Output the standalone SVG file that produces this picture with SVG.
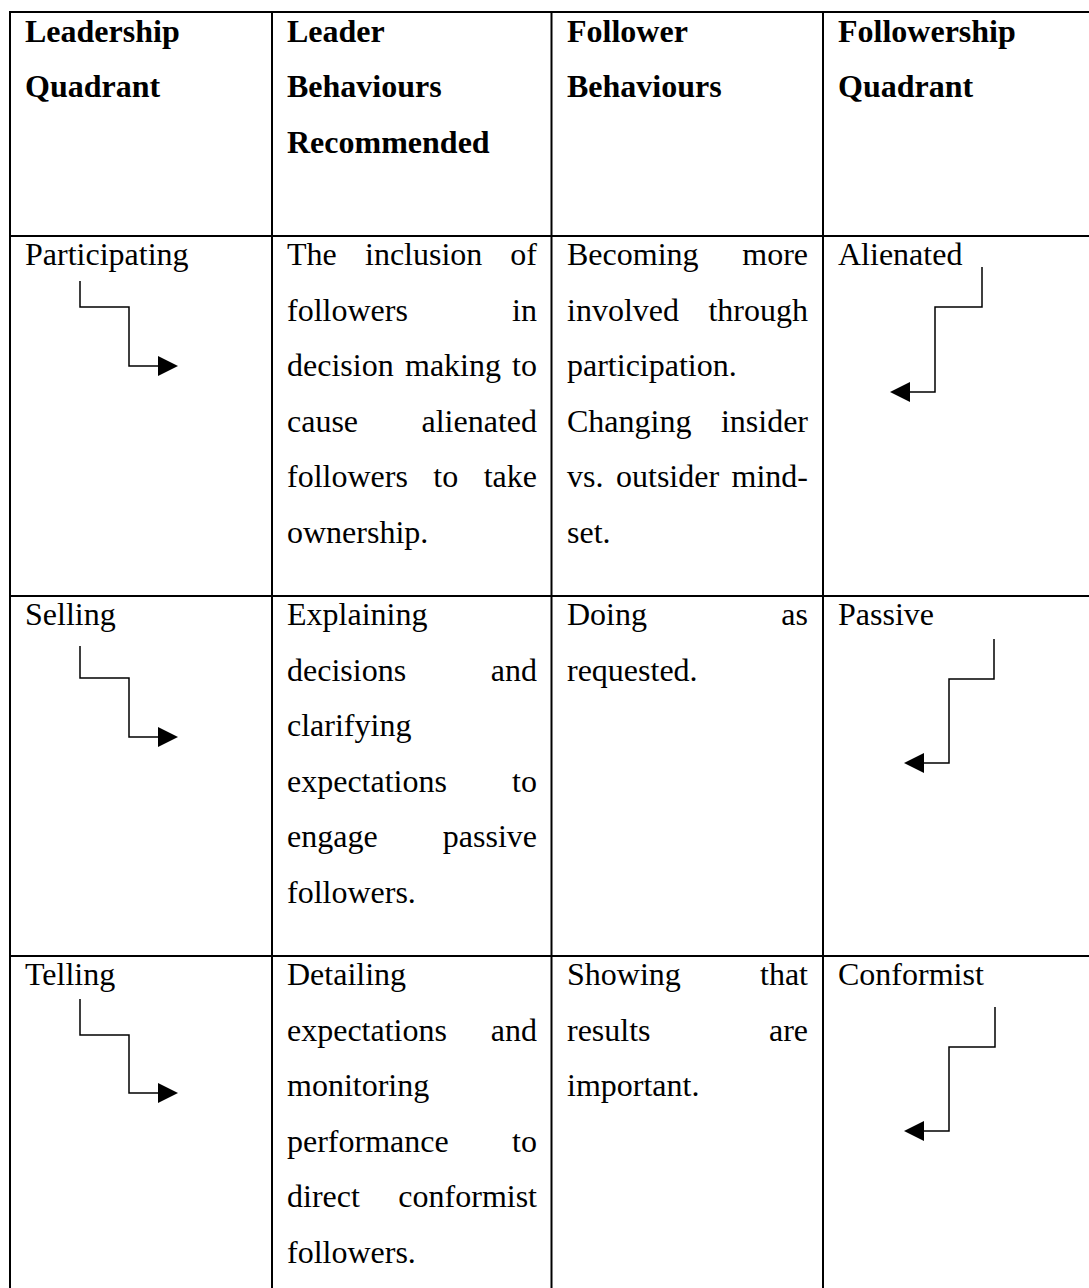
<svg xmlns="http://www.w3.org/2000/svg" width="1089" height="1288" viewBox="0 0 1089 1288">
<style>
text{font-family:"Liberation Serif","Times New Roman",serif;font-size:32px;fill:#000}
.h{font-weight:bold}
.e{text-anchor:end}
.grid{stroke:#000;stroke-width:2;fill:none}
.arr{stroke:#000;stroke-width:1.5;fill:none}
.head{fill:#000;stroke:none}
</style>
<rect width="1089" height="1288" fill="#fff"/>
<g id="grid" class="grid">
<line x1="9" y1="12" x2="1089" y2="12"/>
<line x1="9" y1="236" x2="1089" y2="236"/>
<line x1="9" y1="596" x2="1089" y2="596"/>
<line x1="9" y1="956" x2="1089" y2="956"/>
<line x1="10" y1="11" x2="10" y2="1288"/>
<line x1="272" y1="11" x2="272" y2="1288"/>
<line x1="551.5" y1="11" x2="551.5" y2="1288"/>
<line x1="823" y1="11" x2="823" y2="1288"/>
</g>
<g id="header">
<text class="h" x="25" y="42">Leadership</text>
<text class="h" x="25" y="97">Quadrant</text>
<text class="h" x="287" y="42">Leader</text>
<text class="h" x="287" y="97">Behaviours</text>
<text class="h" x="287" y="152.5">Recommended</text>
<text class="h" x="567" y="42">Follower</text>
<text class="h" x="567" y="97">Behaviours</text>
<text class="h" x="838" y="42">Followership</text>
<text class="h" x="838" y="97">Quadrant</text>
</g>
<g id="row-participating">
<text x="25" y="265">Participating</text>
<text x="287" y="265">The</text><text x="365" y="265">inclusion</text><text class="e" x="537" y="265">of</text>
<text x="287" y="320.5">followers</text><text class="e" x="537" y="320.5">in</text>
<text x="287" y="376">decision</text><text x="405" y="376">making</text><text class="e" x="537" y="376">to</text>
<text x="287" y="431.5">cause</text><text class="e" x="537" y="431.5">alienated</text>
<text x="287" y="487">followers</text><text x="433.3" y="487">to</text><text class="e" x="537" y="487">take</text>
<text x="287" y="542.5">ownership.</text>
<text x="567" y="265">Becoming</text><text class="e" x="808" y="265">more</text>
<text x="567" y="320.5">involved</text><text class="e" x="808" y="320.5">through</text>
<text x="567" y="376">participation.</text>
<text x="567" y="431.5">Changing</text><text class="e" x="808" y="431.5">insider</text>
<text x="567" y="487">vs.</text><text x="616" y="487">outsider</text><text class="e" x="808" y="487">mind-</text>
<text x="567" y="542.5">set.</text>
<text x="838" y="265">Alienated</text>
</g>
<g id="row-selling">
<text x="25" y="625">Selling</text>
<text x="287" y="625">Explaining</text>
<text x="287" y="680.5">decisions</text><text class="e" x="537" y="680.5">and</text>
<text x="287" y="736">clarifying</text>
<text x="287" y="791.5">expectations</text><text class="e" x="537" y="791.5">to</text>
<text x="287" y="847">engage</text><text class="e" x="537" y="847">passive</text>
<text x="287" y="902.5">followers.</text>
<text x="567" y="625">Doing</text><text class="e" x="808" y="625">as</text>
<text x="567" y="680.5">requested.</text>
<text x="838" y="625">Passive</text>
</g>
<g id="row-telling">
<text x="25" y="985">Telling</text>
<text x="287" y="985">Detailing</text>
<text x="287" y="1040.5">expectations</text><text class="e" x="537" y="1040.5">and</text>
<text x="287" y="1096">monitoring</text>
<text x="287" y="1151.5">performance</text><text class="e" x="537" y="1151.5">to</text>
<text x="287" y="1207">direct</text><text class="e" x="537" y="1207">conformist</text>
<text x="287" y="1262.5">followers.</text>
<text x="567" y="985">Showing</text><text class="e" x="808" y="985">that</text>
<text x="567" y="1040.5">results</text><text class="e" x="808" y="1040.5">are</text>
<text x="567" y="1096">important.</text>
<text x="838" y="985">Conformist</text>
</g>
<g id="connectors">
<polyline class="arr" points="80,281 80,307 129,307 129,366 159,366"/>
<polygon class="head" points="158,356 178,366 158,376"/>
<polyline class="arr" points="80,646 80,678 129,678 129,737 159,737"/>
<polygon class="head" points="158,727 178,737 158,747"/>
<polyline class="arr" points="80,999 80,1035 129,1035 129,1093 159,1093"/>
<polygon class="head" points="158,1083 178,1093 158,1103"/>
<polyline class="arr" points="982,267 982,307 935,307 935,392 909,392"/>
<polygon class="head" points="910,382 890,392 910,402"/>
<polyline class="arr" points="994,639 994,679 949,679 949,763 923,763"/>
<polygon class="head" points="924,753 904,763 924,773"/>
<polyline class="arr" points="995,1007 995,1047 949,1047 949,1131 923,1131"/>
<polygon class="head" points="924,1121 904,1131 924,1141"/>
</g>
</svg>
